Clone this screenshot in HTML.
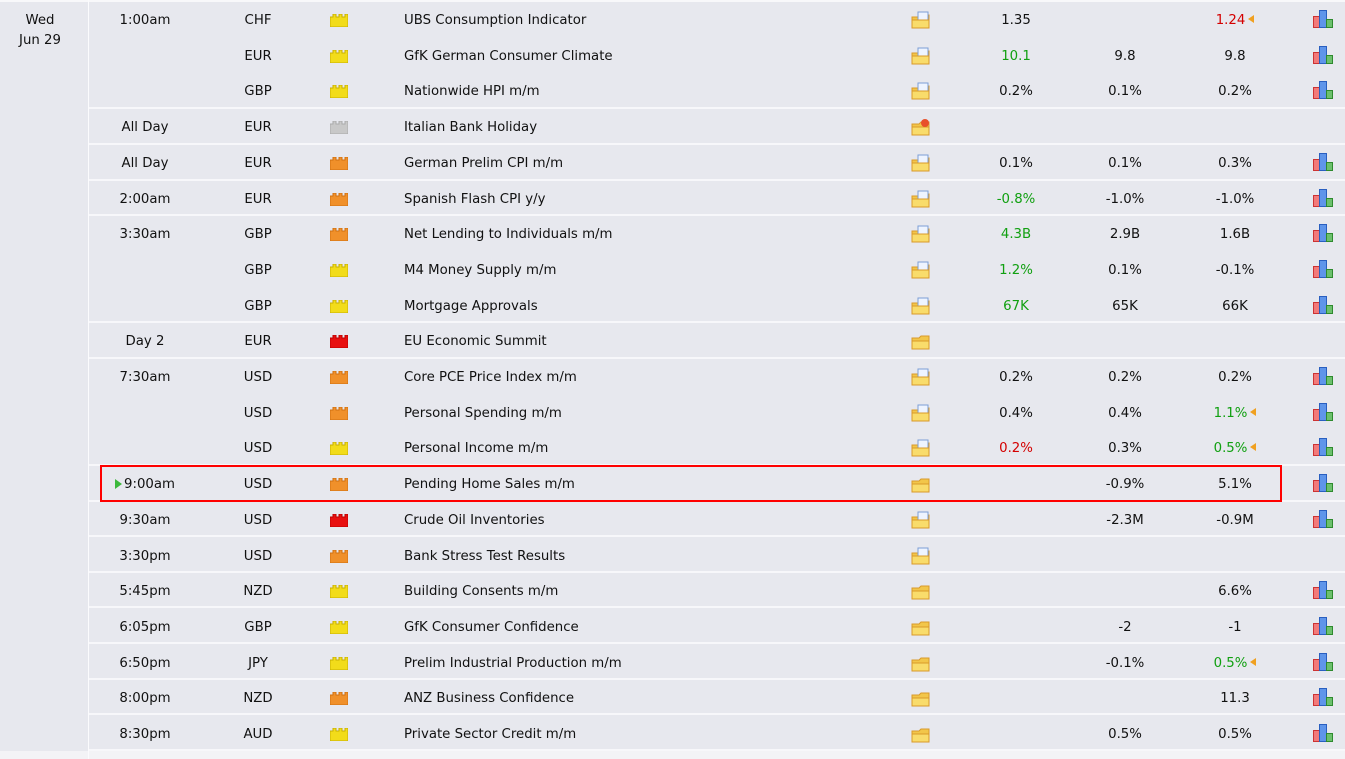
<!DOCTYPE html>
<html><head><meta charset="utf-8"><style>
body{margin:0;width:1345px;height:759px;background:#f3f3f6;overflow:hidden;position:relative;font-family:"DejaVu Sans",Verdana,sans-serif;font-size:13.3px;color:#111}
.bg{position:absolute;left:0;top:2px;width:1345px;height:749px;background:#e7e8ee}
.vl{position:absolute;left:88px;top:0;width:1px;height:759px;background:#fbfbfd}
.tl{position:absolute;left:0;top:0;width:1345px;height:2px;background:#f8f8fa}
.sep{position:absolute;left:89px;width:1256px;height:2px;background:#f7f7fa}
.r{position:absolute;left:0;width:1345px;height:36px;line-height:36px}
.r>span{position:absolute;top:1px;white-space:nowrap}
.t{left:95px;width:100px;text-align:center}
.c{left:228px;width:60px;text-align:center}
.e{left:404px}
.a{left:966px;width:100px;text-align:center}
.f{left:1075px;width:100px;text-align:center}
.p{left:1185px;width:100px;text-align:center}
.g{color:#11a011}.rd{color:#d40000}
.imp{position:absolute;left:330px;top:12px;width:18px;height:13px}
.fold{position:absolute;left:911px;top:9px;width:20px;height:18px}
.ch{position:absolute;left:1313px;top:8px;width:21px;height:19px}
.tri{display:inline-block;width:0;height:0;border-top:4px solid transparent;border-bottom:4px solid transparent;border-right:6px solid #f0a020;margin-left:3px;vertical-align:1px}
.date{position:absolute;left:0;top:11px;width:80px;text-align:center;line-height:20px}
.hl{position:absolute;left:100px;top:465px;width:1178px;height:33px;border:2px solid #f00}
</style></head><body>
<div class="bg"></div><div class="tl"></div><div class="vl"></div>
<div class="date">Wed<br>Jun 29</div>
<svg width="0" height="0" style="position:absolute"><defs>
<g id="fo"><path d="M1 6h7l2-2h8v13H1z" fill="#f2c64a" stroke="#d99a2a"/><rect x="7" y="1" width="10" height="10" fill="#eef4ff" stroke="#7c9ed6"/><path d="M1 9h17v8H1z" fill="#f9dc6b" stroke="#d99a2a"/></g>
<g id="fs"><path d="M1 6h7l2-2h8v13H1z" fill="#f2c64a" stroke="#d99a2a"/><path d="M1 9h17v8H1z" fill="#f9dc6b" stroke="#d99a2a"/></g>
<g id="cb"><rect x="0.5" y="6.5" width="6" height="11" fill="#f27a7a" stroke="#c33"/><rect x="6.5" y="0.5" width="7" height="17" fill="#5f95ea" stroke="#2a5fc0"/><rect x="13.5" y="9.5" width="6" height="8" fill="#6dc06d" stroke="#2e8a2e"/></g>
</defs></svg>

<div class="sep" style="top:107px"></div><div class="sep" style="top:143px"></div><div class="sep" style="top:179px"></div><div class="sep" style="top:214px"></div><div class="sep" style="top:321px"></div><div class="sep" style="top:357px"></div><div class="sep" style="top:464px"></div><div class="sep" style="top:500px"></div><div class="sep" style="top:535px"></div><div class="sep" style="top:571px"></div><div class="sep" style="top:606px"></div><div class="sep" style="top:642px"></div><div class="sep" style="top:678px"></div><div class="sep" style="top:713px"></div><div class="sep" style="top:749px"></div>

<div class="r" style="top:2px"><span class="t">1:00am</span><span class="c">CHF</span><svg class="imp"><path d="M0 3h3V0h3v3h3V0h3v3h3V0h3v13H0z" fill="#f2dc1a" stroke="#c8b000"/></svg><span class="e">UBS Consumption Indicator</span><svg class="fold"><use href="#fo"/></svg><span class="a">1.35</span><span class="p"><span class="rd">1.24</span><span class="tri"></span></span><svg class="ch"><use href="#cb"/></svg></div>
<div class="r" style="top:37.7px"><span class="c">EUR</span><svg class="imp"><path d="M0 3h3V0h3v3h3V0h3v3h3V0h3v13H0z" fill="#f2dc1a" stroke="#c8b000"/></svg><span class="e">GfK German Consumer Climate</span><svg class="fold"><use href="#fo"/></svg><span class="a g">10.1</span><span class="f">9.8</span><span class="p">9.8</span><svg class="ch"><use href="#cb"/></svg></div>
<div class="r" style="top:73.4px"><span class="c">GBP</span><svg class="imp"><path d="M0 3h3V0h3v3h3V0h3v3h3V0h3v13H0z" fill="#f2dc1a" stroke="#c8b000"/></svg><span class="e">Nationwide HPI m/m</span><svg class="fold"><use href="#fo"/></svg><span class="a">0.2%</span><span class="f">0.1%</span><span class="p">0.2%</span><svg class="ch"><use href="#cb"/></svg></div>
<div class="r" style="top:109.1px"><span class="t">All Day</span><span class="c">EUR</span><svg class="imp"><path d="M0 3h3V0h3v3h3V0h3v3h3V0h3v13H0z" fill="#c8c8c8" stroke="#aaa"/></svg><span class="e">Italian Bank Holiday</span><svg class="fold"><use href="#fs"/><circle cx="14" cy="5" r="4" fill="#e8502a"/></svg></div>
<div class="r" style="top:144.8px"><span class="t">All Day</span><span class="c">EUR</span><svg class="imp"><path d="M0 3h3V0h3v3h3V0h3v3h3V0h3v13H0z" fill="#f0902a" stroke="#d07010"/></svg><span class="e">German Prelim CPI m/m</span><svg class="fold"><use href="#fo"/></svg><span class="a">0.1%</span><span class="f">0.1%</span><span class="p">0.3%</span><svg class="ch"><use href="#cb"/></svg></div>
<div class="r" style="top:180.5px"><span class="t">2:00am</span><span class="c">EUR</span><svg class="imp"><path d="M0 3h3V0h3v3h3V0h3v3h3V0h3v13H0z" fill="#f0902a" stroke="#d07010"/></svg><span class="e">Spanish Flash CPI y/y</span><svg class="fold"><use href="#fo"/></svg><span class="a g">-0.8%</span><span class="f">-1.0%</span><span class="p">-1.0%</span><svg class="ch"><use href="#cb"/></svg></div>
<div class="r" style="top:216.2px"><span class="t">3:30am</span><span class="c">GBP</span><svg class="imp"><path d="M0 3h3V0h3v3h3V0h3v3h3V0h3v13H0z" fill="#f0902a" stroke="#d07010"/></svg><span class="e">Net Lending to Individuals m/m</span><svg class="fold"><use href="#fo"/></svg><span class="a g">4.3B</span><span class="f">2.9B</span><span class="p">1.6B</span><svg class="ch"><use href="#cb"/></svg></div>
<div class="r" style="top:251.9px"><span class="c">GBP</span><svg class="imp"><path d="M0 3h3V0h3v3h3V0h3v3h3V0h3v13H0z" fill="#f2dc1a" stroke="#c8b000"/></svg><span class="e">M4 Money Supply m/m</span><svg class="fold"><use href="#fo"/></svg><span class="a g">1.2%</span><span class="f">0.1%</span><span class="p">-0.1%</span><svg class="ch"><use href="#cb"/></svg></div>
<div class="r" style="top:287.6px"><span class="c">GBP</span><svg class="imp"><path d="M0 3h3V0h3v3h3V0h3v3h3V0h3v13H0z" fill="#f2dc1a" stroke="#c8b000"/></svg><span class="e">Mortgage Approvals</span><svg class="fold"><use href="#fo"/></svg><span class="a g">67K</span><span class="f">65K</span><span class="p">66K</span><svg class="ch"><use href="#cb"/></svg></div>
<div class="r" style="top:323.3px"><span class="t">Day 2</span><span class="c">EUR</span><svg class="imp"><path d="M0 3h3V0h3v3h3V0h3v3h3V0h3v13H0z" fill="#e81010" stroke="#b00"/></svg><span class="e">EU Economic Summit</span><svg class="fold"><use href="#fs"/></svg></div>
<div class="r" style="top:359px"><span class="t">7:30am</span><span class="c">USD</span><svg class="imp"><path d="M0 3h3V0h3v3h3V0h3v3h3V0h3v13H0z" fill="#f0902a" stroke="#d07010"/></svg><span class="e">Core PCE Price Index m/m</span><svg class="fold"><use href="#fo"/></svg><span class="a">0.2%</span><span class="f">0.2%</span><span class="p">0.2%</span><svg class="ch"><use href="#cb"/></svg></div>
<div class="r" style="top:394.7px"><span class="c">USD</span><svg class="imp"><path d="M0 3h3V0h3v3h3V0h3v3h3V0h3v13H0z" fill="#f0902a" stroke="#d07010"/></svg><span class="e">Personal Spending m/m</span><svg class="fold"><use href="#fo"/></svg><span class="a">0.4%</span><span class="f">0.4%</span><span class="p"><span class="g">1.1%</span><span class="tri"></span></span><svg class="ch"><use href="#cb"/></svg></div>
<div class="r" style="top:430.4px"><span class="c">USD</span><svg class="imp"><path d="M0 3h3V0h3v3h3V0h3v3h3V0h3v13H0z" fill="#f2dc1a" stroke="#c8b000"/></svg><span class="e">Personal Income m/m</span><svg class="fold"><use href="#fo"/></svg><span class="a rd">0.2%</span><span class="f">0.3%</span><span class="p"><span class="g">0.5%</span><span class="tri"></span></span><svg class="ch"><use href="#cb"/></svg></div>
<div class="r" style="top:466.1px"><span class="t"><span style="display:inline-block;width:0;height:0;border-top:5px solid transparent;border-bottom:5px solid transparent;border-left:7px solid #3cb83c;margin-right:2px;vertical-align:-1px"></span>9:00am</span><span class="c">USD</span><svg class="imp"><path d="M0 3h3V0h3v3h3V0h3v3h3V0h3v13H0z" fill="#f0902a" stroke="#d07010"/></svg><span class="e">Pending Home Sales m/m</span><svg class="fold"><use href="#fs"/></svg><span class="f">-0.9%</span><span class="p">5.1%</span><svg class="ch"><use href="#cb"/></svg></div>
<div class="r" style="top:501.8px"><span class="t">9:30am</span><span class="c">USD</span><svg class="imp"><path d="M0 3h3V0h3v3h3V0h3v3h3V0h3v13H0z" fill="#e81010" stroke="#b00"/></svg><span class="e">Crude Oil Inventories</span><svg class="fold"><use href="#fo"/></svg><span class="f">-2.3M</span><span class="p">-0.9M</span><svg class="ch"><use href="#cb"/></svg></div>
<div class="r" style="top:537.5px"><span class="t">3:30pm</span><span class="c">USD</span><svg class="imp"><path d="M0 3h3V0h3v3h3V0h3v3h3V0h3v13H0z" fill="#f0902a" stroke="#d07010"/></svg><span class="e">Bank Stress Test Results</span><svg class="fold"><use href="#fo"/></svg></div>
<div class="r" style="top:573.2px"><span class="t">5:45pm</span><span class="c">NZD</span><svg class="imp"><path d="M0 3h3V0h3v3h3V0h3v3h3V0h3v13H0z" fill="#f2dc1a" stroke="#c8b000"/></svg><span class="e">Building Consents m/m</span><svg class="fold"><use href="#fs"/></svg><span class="p">6.6%</span><svg class="ch"><use href="#cb"/></svg></div>
<div class="r" style="top:608.9px"><span class="t">6:05pm</span><span class="c">GBP</span><svg class="imp"><path d="M0 3h3V0h3v3h3V0h3v3h3V0h3v13H0z" fill="#f2dc1a" stroke="#c8b000"/></svg><span class="e">GfK Consumer Confidence</span><svg class="fold"><use href="#fs"/></svg><span class="f">-2</span><span class="p">-1</span><svg class="ch"><use href="#cb"/></svg></div>
<div class="r" style="top:644.6px"><span class="t">6:50pm</span><span class="c">JPY</span><svg class="imp"><path d="M0 3h3V0h3v3h3V0h3v3h3V0h3v13H0z" fill="#f2dc1a" stroke="#c8b000"/></svg><span class="e">Prelim Industrial Production m/m</span><svg class="fold"><use href="#fs"/></svg><span class="f">-0.1%</span><span class="p"><span class="g">0.5%</span><span class="tri"></span></span><svg class="ch"><use href="#cb"/></svg></div>
<div class="r" style="top:680.3px"><span class="t">8:00pm</span><span class="c">NZD</span><svg class="imp"><path d="M0 3h3V0h3v3h3V0h3v3h3V0h3v13H0z" fill="#f0902a" stroke="#d07010"/></svg><span class="e">ANZ Business Confidence</span><svg class="fold"><use href="#fs"/></svg><span class="p">11.3</span><svg class="ch"><use href="#cb"/></svg></div>
<div class="r" style="top:716px"><span class="t">8:30pm</span><span class="c">AUD</span><svg class="imp"><path d="M0 3h3V0h3v3h3V0h3v3h3V0h3v13H0z" fill="#f2dc1a" stroke="#c8b000"/></svg><span class="e">Private Sector Credit m/m</span><svg class="fold"><use href="#fs"/></svg><span class="f">0.5%</span><span class="p">0.5%</span><svg class="ch"><use href="#cb"/></svg></div>
<div class="hl"></div>
</body></html>
